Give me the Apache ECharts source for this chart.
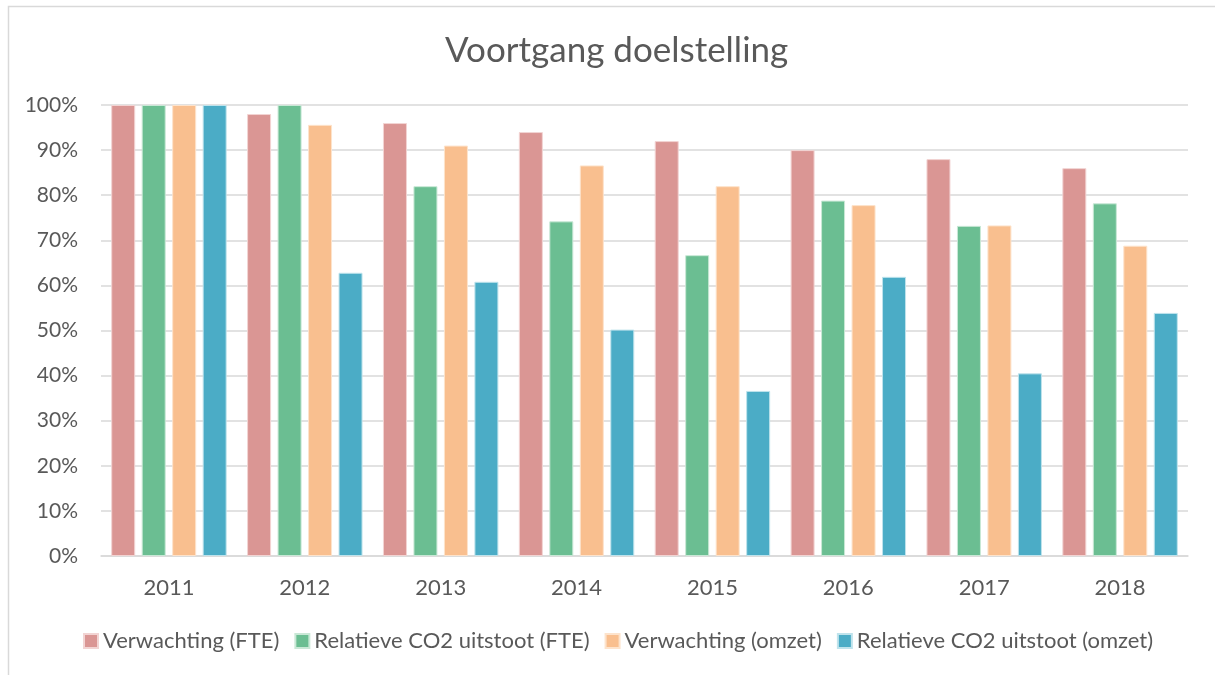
<!DOCTYPE html>
<html>
<head>
<meta charset="utf-8">
<script src="https://cdn.jsdelivr.net/npm/echarts@6/dist/echarts.min.js"></script>
<style>
  html, body { margin: 0; padding: 0; background: #fff; }
  #chart { width: 1215px; height: 675px; }
</style>
</head>
<body>
<div id="chart"></div>
<script>
// data
const years = ["2011", "2012", "2013", "2014", "2015", "2016", "2017", "2018"];
const verwachtingFte = [100, 98, 96, 94, 92, 90, 88, 86];
const co2Fte = [100, 100, 82, 74.2, 66.7, 78.8, 73.2, 78.2];
const verwachtingOmzet = [100, 95.6, 91, 86.6, 82, 77.8, 73.3, 68.8];
const co2Omzet = [100, 62.8, 60.8, 50.2, 36.6, 61.9, 40.5, 53.9];

const seriesNames = [
  "Verwachting (FTE)",
  "Relatieve CO2 uitstoot (FTE)",
  "Verwachting (omzet)",
  "Relatieve CO2 uitstoot (omzet)",
];
const colors = ["#DA9694", "#6BBE92", "#F9BF8F", "#4BACC6"];
const borders = ["#F2D4D3", "#C9E8D6", "#FDE3CC", "#BFE3EC"];

const FONT = "Lato, 'Open Sans', sans-serif";

let chart = echarts.init(document.getElementById("chart"));

function makeBar(name, data, i) {
  return {
    name: name,
    type: "bar",
    data: data,
    barWidth: 24,
    barGap: "27%",
    itemStyle: {
      color: colors[i],
      borderColor: borders[i],
      borderWidth: 1,
    },
  };
}

let option = {
  animation: false,
  backgroundColor: "#ffffff",
  textStyle: { fontFamily: FONT },
  graphic: [
    {
      type: "rect",
      shape: { x: 8.5, y: 6.5, width: 1215, height: 680 },
      style: { fill: "none", stroke: "#D9D9D9", lineWidth: 1.5 },
      silent: true,
    },
  ],
  title: {
    text: "Voortgang doelstelling",
    left: 440,
    top: 28,
    textStyle: {
      color: "#595959",
      fontSize: 35,
      fontWeight: "normal",
      fontFamily: FONT,
    },
  },
  legend: {
    bottom: 18,
    left: 78,
    itemWidth: 14,
    itemHeight: 14,
    itemGap: 15,
    icon: "rect",
    textStyle: { color: "#595959", fontSize: 22, fontFamily: FONT, padding: [0, 0, 0, 0] },
    data: seriesNames,
  },
  grid: {
    left: 101,
    right: 27,
    top: 105,
    bottom: 119,
    containLabel: false,
  },
  xAxis: {
    type: "category",
    data: years,
    axisLine: { lineStyle: { color: "#D9D9D9", width: 1.5 } },
    axisTick: { show: false },
    axisLabel: { color: "#595959", fontSize: 22, margin: 21, fontFamily: FONT },
  },
  yAxis: {
    type: "value",
    min: 0,
    max: 100,
    interval: 10,
    axisLine: { show: false },
    axisTick: { show: false },
    axisLabel: {
      color: "#595959",
      fontSize: 21,
      margin: 23,
      fontFamily: FONT,
      formatter: (v) => v + "%",
    },
    splitLine: { lineStyle: { color: "#D9D9D9", width: 1.5 } },
  },
  series: [
    makeBar(seriesNames[0], verwachtingFte, 0),
    makeBar(seriesNames[1], co2Fte, 1),
    makeBar(seriesNames[2], verwachtingOmzet, 2),
    makeBar(seriesNames[3], co2Omzet, 3),
  ],
};

chart.setOption(option);
</script>
</body>
</html>
